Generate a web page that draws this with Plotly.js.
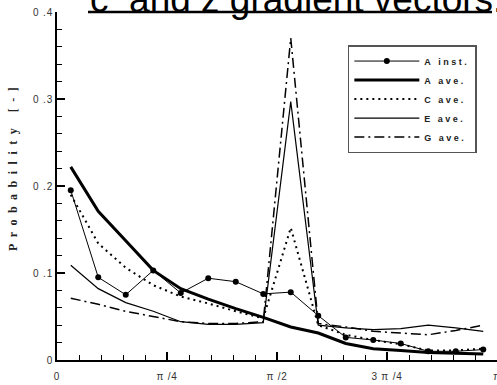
<!DOCTYPE html>
<html>
<head>
<meta charset="utf-8">
<script src="https://cdn.plot.ly/plotly-3.0.1.min.js"></script>
<style>html,body{margin:0;padding:0;background:#fff;}#chart{width:497px;height:385px;}</style>
</head>
<body>
<div id="chart"></div>
<script>
// bin centres (radians), 16 bins over [0, pi]
var angle = [0.0982, 0.2945, 0.4909, 0.6872, 0.8836, 1.0799, 1.2763, 1.4726,
             1.6690, 1.8653, 2.0617, 2.2580, 2.4544, 2.6507, 2.8471, 3.0434];
var aInst = [0.195, 0.095, 0.075, 0.103, 0.077, 0.094, 0.090, 0.076,
             0.078, 0.051, 0.026, 0.023, 0.019, 0.010, 0.010, 0.012];
var aAve  = [0.222, 0.171, 0.137, 0.103, 0.082, 0.070, 0.059, 0.049,
             0.038, 0.031, 0.019, 0.013, 0.011, 0.0085, 0.0078, 0.007];
var cAve  = [0.190, 0.134, 0.106, 0.086, 0.073, 0.065, 0.056, 0.048,
             0.152, 0.040, 0.029, 0.023, 0.018, 0.011, 0.011, 0.013];
var eAve  = [0.109, 0.082, 0.066, 0.056, 0.044, 0.041, 0.041, 0.043,
             0.297, 0.040, 0.037, 0.035, 0.036, 0.040, 0.037, 0.033];
var gAve  = [0.071, 0.064, 0.056, 0.050, 0.044, 0.042, 0.042, 0.044,
             0.370, 0.042, 0.038, 0.033, 0.031, 0.029, 0.034, 0.040];

var xTickVals = [0, Math.PI/4, Math.PI/2, 3*Math.PI/4, Math.PI];
var xTickText = ['0', 'π /4', 'π /2', '3 π /4', 'π'];
var yTickVals = [0, 0.1, 0.2, 0.3, 0.4];
var yTickText = ['0', '0 .1', '0 .2', '0 .3', '0 .4'];
var seriesNames = ['A inst.', 'A ave.', 'C ave.', 'E ave.', 'G ave.'];
var titleText = 'c  and z gradient vectors.';
var yTitleText = 'Probability [-]';

function sp(s, ls){ return '<span style="letter-spacing:' + ls + 'px">' + s.replace(/ /g, '\u00a0') + '</span>'; }

var traces = [
  {x: angle, y: aInst, name: sp(seriesNames[0], 2.5), mode: 'lines+markers',
   line: {color: '#000', width: 1}, marker: {color: '#000', size: 6, symbol: 'circle'}},
  {x: angle, y: aAve, name: sp(seriesNames[1], 2.5), mode: 'lines',
   line: {color: '#000', width: 3}},
  {x: angle, y: cAve, name: sp(seriesNames[2], 2.5), mode: 'lines',
   line: {color: '#000', width: 2, dash: '2px,4px'}},
  {x: angle, y: eAve, name: sp(seriesNames[3], 2.5), mode: 'lines',
   line: {color: '#000', width: 1.2}},
  {x: angle, y: gAve, name: sp(seriesNames[4], 2.5), mode: 'lines',
   line: {color: '#000', width: 1.5, dash: '10px,4px,2px,4px'}}
];

var tickFont = {family: 'Liberation Sans, Arial, sans-serif', size: 10, color: '#333'};

var layout = {
  width: 497, height: 385,
  margin: {l: 57, r: 0, t: 12, b: 25, pad: 0},
  paper_bgcolor: '#fff', plot_bgcolor: '#fff',
  showlegend: true,
  xaxis: {
    range: [0, Math.PI], tickmode: 'array', tickvals: xTickVals,
    ticktext: xTickText.map(function(t){ return sp(t, 0.8); }),
    ticks: 'inside', ticklen: 8, tickwidth: 1.5, tickcolor: '#000',
    showline: true, linewidth: 2, linecolor: '#000', mirror: false,
    showgrid: false, zeroline: false, tickfont: tickFont,
    ticklabeloverflow: 'allow', ticklabelstandoff: 6,
    minor: {tickmode: 'linear', tick0: 0, dtick: Math.PI/20, ticks: 'inside',
            ticklen: 5, tickwidth: 1, tickcolor: '#000', showgrid: false}
  },
  yaxis: {
    range: [0, 0.4], tickmode: 'array', tickvals: yTickVals,
    ticktext: yTickText.map(function(t){ return sp(t, 0.8); }),
    ticks: 'inside', ticklen: 8, tickwidth: 1.5, tickcolor: '#000',
    showline: true, linewidth: 2, linecolor: '#000',
    showgrid: false, zeroline: false, tickfont: tickFont,
    ticklabeloverflow: 'allow',
    minor: {tickmode: 'linear', tick0: 0, dtick: 0.02, ticks: 'inside',
            ticklen: 5, tickwidth: 1, tickcolor: '#000', showgrid: false}
  },
  legend: {
    x: 0.661, y: 0.905, xanchor: 'left', yanchor: 'top',
    bgcolor: '#fff', bordercolor: '#555', borderwidth: 1.5,
    font: {family: 'Liberation Sans, Arial, sans-serif', size: 9, color: '#222', weight: 'bold'},
    itemwidth: 65, tracegroupgap: 0
  },
  annotations: [
    {text: titleText.replace(/ /g, '\u00a0'), xref: 'paper', yref: 'paper', x: (88-57)/440, y: (360-22)/348,
     xanchor: 'left', yanchor: 'bottom', showarrow: false,
     font: {family: 'Liberation Sans, Arial, sans-serif', size: 37, color: '#000'}},
    {text: sp(yTitleText, 6.5), xref: 'paper', yref: 'paper',
     x: (13-57)/440, y: (360-166)/348, xanchor: 'center', yanchor: 'middle',
     textangle: -90, showarrow: false,
     font: {family: 'Liberation Serif, Times New Roman, serif', size: 12, color: '#222', weight: 'bold'}}
  ],
  shapes: [
    {type: 'line', xref: 'paper', yref: 'paper', x0: (88-57)/440, x1: (492-57)/440,
     y0: (360-12)/348, y1: (360-12)/348, line: {color: '#000', width: 2.5}}
  ]
};

Plotly.newPlot('chart', traces, layout, {displayModeBar: false, staticPlot: true});
</script>
</body>
</html>
